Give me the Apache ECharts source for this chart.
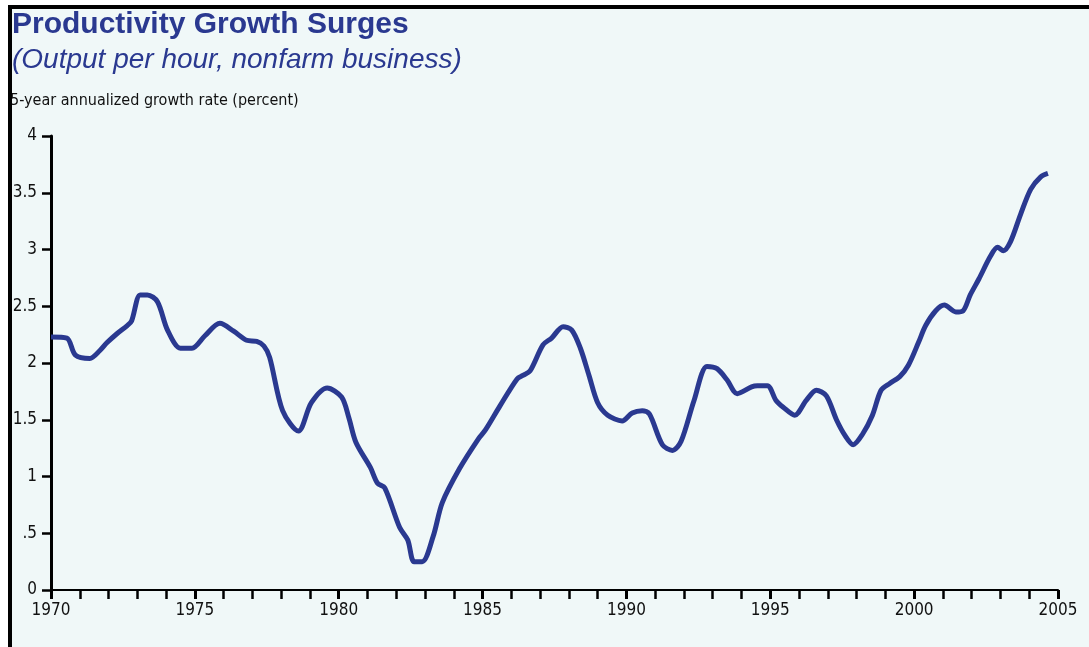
<!DOCTYPE html>
<html>
<head>
<meta charset="utf-8">
<title>Productivity Growth Surges</title>
<script src="https://cdn.jsdelivr.net/npm/echarts@6/dist/echarts.min.js"></script>
<style>
  html, body { margin: 0; padding: 0; background: #ffffff; }
  #chart { width: 1089px; height: 647px; }
</style>
</head>
<body>
<div id="chart"></div>
<script>
// Nonfarm business output per hour, 5-year annualized growth rate (percent)
const years = [
  1970.00, 1970.55, 1970.85, 1971.35, 1971.70, 1971.95, 1972.30, 1972.65, 1972.80,
  1973.10, 1973.35, 1973.70, 1974.05, 1974.50, 1974.90, 1975.35, 1975.87, 1976.35,
  1976.80, 1977.15, 1977.40, 1977.60, 1978.05, 1978.60, 1979.05, 1979.60, 1980.10,
  1980.35, 1980.60, 1981.10, 1981.35, 1981.60, 1982.12, 1982.40, 1982.62, 1982.90,
  1983.28, 1983.60, 1984.20, 1984.85, 1985.10, 1985.60, 1986.20, 1986.40, 1986.65,
  1987.10, 1987.40, 1987.80, 1988.10, 1988.40, 1988.70, 1989.00, 1989.35, 1989.85,
  1990.20, 1990.55, 1990.80, 1991.25, 1991.60, 1991.90, 1992.35, 1992.80, 1993.15,
  1993.50, 1993.85, 1994.35, 1994.55, 1994.90, 1995.20, 1995.45, 1995.85, 1996.25,
  1996.60, 1996.95, 1997.30, 1997.60, 1997.88, 1998.20, 1998.55, 1998.85, 1999.15,
  1999.50, 1999.80, 2000.15, 2000.40, 2000.75, 2001.05, 2001.45, 2001.70, 2001.95,
  2002.25, 2002.65, 2002.90, 2003.10, 2003.35, 2003.70, 2004.05, 2004.40, 2004.65
];
const growth = [
  2.23, 2.22, 2.07, 2.04, 2.11, 2.18, 2.26, 2.33, 2.37,
  2.60, 2.60, 2.54, 2.29, 2.13, 2.13, 2.24, 2.35, 2.28,
  2.20, 2.19, 2.15, 2.05, 1.58, 1.40, 1.65, 1.78, 1.70,
  1.52, 1.30, 1.08, 0.94, 0.90, 0.55, 0.44, 0.25, 0.25,
  0.47, 0.77, 1.07, 1.33, 1.41, 1.62, 1.86, 1.89, 1.93,
  2.16, 2.22, 2.32, 2.29, 2.13, 1.89, 1.65, 1.54, 1.49,
  1.56, 1.58, 1.55, 1.28, 1.23, 1.31, 1.67, 1.97, 1.95,
  1.85, 1.73, 1.79, 1.80, 1.80, 1.67, 1.61, 1.54, 1.67,
  1.76, 1.71, 1.50, 1.36, 1.28, 1.37, 1.54, 1.76, 1.82,
  1.88, 1.98, 2.18, 2.33, 2.46, 2.51, 2.45, 2.46, 2.60,
  2.74, 2.94, 3.02, 2.99, 3.07, 3.31, 3.53, 3.64, 3.67
];
const yTicks = [0, 0.5, 1, 1.5, 2, 2.5, 3, 3.5, 4];
const xRange = [1970, 2005];

const navy = '#2a3990';
const narrow = '"Liberation Sans Narrow", "DejaVu Sans Condensed", "Liberation Sans", sans-serif';

const chart = echarts.init(document.getElementById('chart'), null, { renderer: 'canvas' });

chart.setOption({
  backgroundColor: '#ffffff',
  animation: false,
  graphic: [
    // panel fill and its black frame on the left and top
    { type: 'rect', z: -10, shape: { x: 8, y: 5, width: 1081, height: 642 }, style: { fill: '#f0f8f8' } },
    { type: 'rect', z: 10, shape: { x: 8, y: 5, width: 4, height: 642 }, style: { fill: '#000000' } },
    { type: 'rect', z: 10, shape: { x: 8, y: 5, width: 1081, height: 4 }, style: { fill: '#000000' } },
    {
      type: 'text', left: 12, top: 10,
      style: { text: 'Productivity Growth Surges', fill: navy,
        font: 'bold 30px "Liberation Sans", Arial, sans-serif' }
    },
    {
      type: 'text', left: 12, top: 46,
      style: { text: '(Output per hour, nonfarm business)', fill: navy,
        font: 'italic 28px "Liberation Sans", Arial, sans-serif' }
    },
    {
      type: 'text', left: 10, top: 93,
      style: { text: '5-year annualized growth rate (percent)', fill: '#111111',
        font: '16px ' + narrow }
    }
  ],
  grid: { left: 51, right: 31, top: 136, bottom: 57, containLabel: false },
  xAxis: {
    type: 'value',
    min: xRange[0],
    max: xRange[1],
    interval: 5,
    axisLine: { show: true, lineStyle: { color: '#000', width: 2 } },
    axisTick: { show: true, length: 9, lineStyle: { color: '#000', width: 3 } },
    minorTick: { show: true, splitNumber: 5, length: 9, lineStyle: { color: '#000', width: 2.5 } },
    splitLine: { show: false },
    axisLabel: {
      margin: 12, color: '#111', fontSize: 17, fontFamily: narrow,
      formatter: v => String(v)
    }
  },
  yAxis: {
    type: 'value',
    min: yTicks[0],
    max: yTicks[yTicks.length - 1],
    interval: 0.5,
    axisLine: { show: true, lineStyle: { color: '#000', width: 3 } },
    axisTick: { show: true, length: 9, lineStyle: { color: '#000', width: 2.5 } },
    splitLine: { show: false },
    axisLabel: {
      margin: 14, color: '#111', fontSize: 17, fontFamily: narrow,
      formatter: v => (v > 0 && v < 1) ? String(v).replace(/^0/, '') : String(v)
    }
  },
  series: [{
    type: 'line',
    data: years.map((y, i) => [y, growth[i]]),
    showSymbol: false,
    smooth: 0.3,
    lineStyle: { color: navy, width: 5 },
    z: 5
  }]
});
</script>
</body>
</html>
